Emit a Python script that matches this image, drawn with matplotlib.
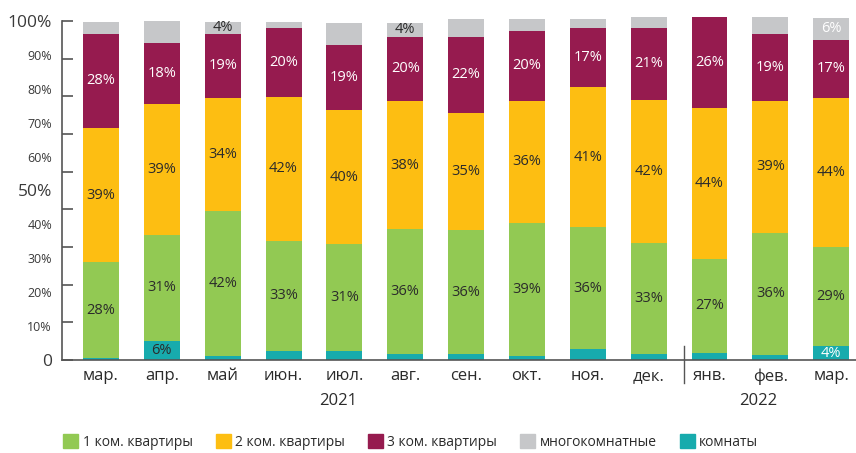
import matplotlib.pyplot as plt
import numpy as np
from matplotlib.patches import Patch

plt.rcParams['font.family'] = ['Open Sans', 'DejaVu Sans']

# months (March 2021 - March 2022)
months = ['мар.', 'апр.', 'май', 'июн.', 'июл.', 'авг.', 'сен.', 'окт.', 'ноя.', 'дек.',
          'янв.', 'фев.', 'мар.']

# segment sizes in %, bottom to top
rooms = [0.5, 5.5, 1.3, 2.7, 2.7, 1.8, 1.8, 1.2, 3.2, 1.8, 2.1, 1.5, 4.1]
one_room = [28.4, 31.5, 42.7, 32.4, 31.5, 36.8, 36.5, 39.2, 36.0, 32.7, 27.7, 36.0, 29.2]
two_room = [39.5, 38.5, 33.3, 42.5, 39.5, 37.8, 34.6, 36.0, 41.3, 42.2, 44.5, 38.9, 44.0]
three_room = [27.8, 18.0, 18.9, 20.3, 19.2, 18.9, 22.4, 20.7, 17.4, 21.2, 26.9, 19.8, 17.1]
multi_room = [3.5, 6.5, 3.5, 1.8, 6.5, 4.1, 5.3, 3.5, 2.7, 3.3, 0.0, 5.0, 6.5]

# printed labels
rooms_lbl = [None, '6%', None, None, None, None, None, None, None, None, None, None, '4%']
one_lbl = ['28%', '31%', '42%', '33%', '31%', '36%', '36%', '39%', '36%', '33%', '27%', '36%', '29%']
two_lbl = ['39%', '39%', '34%', '42%', '40%', '38%', '35%', '36%', '41%', '42%', '44%', '39%', '44%']
three_lbl = ['28%', '18%', '19%', '20%', '19%', '20%', '22%', '20%', '17%', '21%', '26%', '19%', '17%']
multi_lbl = [None, None, '4%', None, None, '4%', None, None, None, None, None, None, '6%']

series = [
    ('комнаты', rooms, rooms_lbl, '#17abad'),
    ('1 ком. квартиры', one_room, one_lbl, '#92c953'),
    ('2 ком. квартиры', two_room, two_lbl, '#fdbe12'),
    ('3 ком. квартиры', three_room, three_lbl, '#961b4f'),
    ('многокомнатные', multi_room, multi_lbl, '#c6c7c9'),
]
legend_order = [1, 2, 3, 4, 0]

dark = '#2b2b2b'
# labels drawn in white (series index, bar index)
white_lbl = {(0, 12), (4, 12)} | {(3, i) for i in range(len(months))}

fig = plt.figure(figsize=(8.56, 4.53), dpi=100)
ax = fig.add_axes([0.0721, 0.2053, 0.928, 0.7859])

x = np.arange(len(months))
bottom = np.zeros(len(months))
for si, (name, vals, lbls, col) in enumerate(series):
    vals = np.array(vals)
    ax.bar(x, vals, bottom=bottom, width=0.59, color=col, linewidth=0)
    for i, t in enumerate(lbls):
        if t is None:
            continue
        c = 'white' if (si, i) in white_lbl else dark
        ax.text(x[i], bottom[i] + vals[i] / 2, t, ha='center', va='center',
                fontsize=10.5, color=c)
    bottom += vals

ax.set_xlim(-0.646, 12.41)
ax.set_ylim(0, 105)

for s in ['top', 'right']:
    ax.spines[s].set_visible(False)
ax.spines['left'].set_bounds(0, 100)
for s in ['left', 'bottom']:
    ax.spines[s].set_color('#555555')
    ax.spines[s].set_linewidth(1.2)

# tick marks (9 intervals) without labels
ax.set_yticks(np.linspace(0, 100, 10))
ax.set_yticklabels([])
ax.tick_params(axis='y', direction='in', length=8, width=1.2, color='#555555')

# percent labels on a separate axis
sec = ax.secondary_yaxis('left')
yt = np.arange(0, 101, 10)
sec.set_yticks(yt)
sec.set_yticklabels(['0'] + [f'{v}%' for v in yt[1:]])
sec.tick_params(length=0, pad=7, colors='#3a3a3a', labelsize=9)
sec.spines['left'].set_visible(False)
for lab in sec.get_yticklabels():
    if lab.get_text() in ('0', '50%', '100%'):
        lab.set_fontsize(12.5)

ax.set_xticks(x, months)
ax.tick_params(axis='x', length=0, pad=6, labelsize=12, labelcolor='#2b2b2b')

ax.text(3.9, -12.1, '2021', ha='center', va='center', fontsize=12, color='#2b2b2b')
ax.text(10.8, -12.1, '2022', ha='center', va='center', fontsize=12, color='#2b2b2b')
ax.plot([9.58, 9.58], [4.1, -6.8], color='#555555', lw=1, clip_on=False)

handles = [Patch(color=series[k][3], label=series[k][0]) for k in legend_order]
fig.legend(handles=handles, loc='center left', bbox_to_anchor=(0.059, 0.024), ncol=5,
           frameon=False, handlelength=1.08, handleheight=1.08, handletextpad=0.33,
           columnspacing=1.65, fontsize=10, labelcolor='#2b2b2b')

fig.savefig('out.png', dpi=100)
